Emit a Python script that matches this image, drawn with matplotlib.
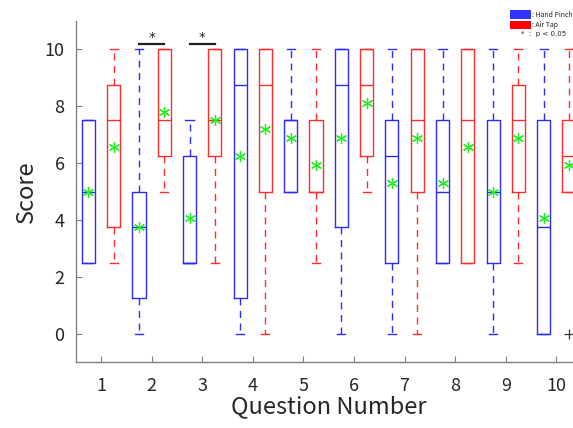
import matplotlib
matplotlib.use('Agg')
import matplotlib.pyplot as plt
from matplotlib.patches import Rectangle

plt.rcParams['font.family'] = ['Noto Sans CJK JP', 'DejaVu Sans']

questions = [1, 2, 3, 4, 5, 6, 7, 8, 9, 10]

# Hand Pinch (blue)
hp_q1 = [2.5, 1.25, 2.5, 1.25, 5.0, 3.75, 2.5, 2.5, 2.5, 0.0]
hp_med = [5.0, 3.75, 2.5, 8.75, 7.5, 8.75, 6.25, 5.0, 5.0, 3.75]
hp_q3 = [7.5, 5.0, 6.25, 10.0, 7.5, 10.0, 7.5, 7.5, 7.5, 7.5]
hp_lo = [2.5, 0.0, 2.5, 0.0, 5.0, 0.0, 0.0, 2.5, 0.0, 0.0]
hp_hi = [7.5, 10.0, 7.5, 10.0, 10.0, 10.0, 10.0, 10.0, 10.0, 10.0]
hp_mean = [5.0, 3.75, 4.06, 6.25, 6.87, 6.87, 5.31, 5.31, 5.0, 4.06]

# Air Tap (red)
at_q1 = [3.75, 6.25, 6.25, 5.0, 5.0, 6.25, 5.0, 2.5, 5.0, 5.0]
at_med = [7.5, 7.5, 7.5, 8.75, 5.0, 8.75, 7.5, 7.5, 7.5, 6.25]
at_q3 = [8.75, 10.0, 10.0, 10.0, 7.5, 10.0, 10.0, 10.0, 8.75, 7.5]
at_lo = [2.5, 5.0, 2.5, 0.0, 2.5, 5.0, 0.0, 2.5, 2.5, 5.0]
at_hi = [10.0, 10.0, 10.0, 10.0, 10.0, 10.0, 10.0, 10.0, 10.0, 10.0]
at_mean = [6.56, 7.81, 7.5, 7.19, 5.94, 8.12, 6.87, 6.56, 6.87, 5.94]
at_fliers = [[], [], [], [], [], [], [], [], [], [0.0]]

# questions with p < 0.05
sig_questions = [2, 3]

blue = '#2b2bff'
red = '#ff2b2b'


def make_stats(q1, med, q3, lo, hi, mean, fliers=None):
    stats = []
    for i in range(len(q1)):
        stats.append(dict(q1=q1[i], med=med[i], q3=q3[i], whislo=lo[i],
                          whishi=hi[i], mean=mean[i],
                          fliers=fliers[i] if fliers else []))
    return stats


fig = plt.figure(figsize=(5.73, 4.28), dpi=100)
ax = fig.add_axes([0.1321, 0.1542, 0.883, 0.7967])

off = 0.25
for stats, color, sign in [(make_stats(hp_q1, hp_med, hp_q3, hp_lo, hp_hi, hp_mean), blue, -1),
                           (make_stats(at_q1, at_med, at_q3, at_lo, at_hi, at_mean, at_fliers), red, 1)]:
    pos = [q + sign * off for q in questions]
    ax.bxp(stats, positions=pos, widths=0.26, showmeans=True, patch_artist=False,
           capwidths=0.16,
           boxprops=dict(color=color, linewidth=1.0),
           medianprops=dict(color=color, linewidth=1.0),
           whiskerprops=dict(color=color, linewidth=1.0, linestyle=(0, (5, 4))),
           capprops=dict(color=color, linewidth=1.0),
           meanprops=dict(marker=(6, 2, 0), markersize=8, markeredgecolor='#22ee22',
                          markerfacecolor='#22ee22', markeredgewidth=0.9),
           flierprops=dict(marker='+', markersize=7, markeredgecolor='#333333',
                           markeredgewidth=0.9))

# significance bars
for q in sig_questions:
    ax.plot([q - off, q + off], [10.19, 10.19], color='#222222', linewidth=1.6)
    ax.text(q, 10.2, '*', ha='center', va='bottom', fontsize=9.5, color='#222222',
            family='DejaVu Sans')

ax.set_xlim(0.5, 10.5)
ax.set_ylim(-1, 11)
ax.set_xticks(questions)
ax.set_xticklabels([str(q) for q in questions])
ax.set_yticks([0, 2, 4, 6, 8, 10])
ax.tick_params(direction='in', length=4, width=0.8, color='#808080',
               labelsize=13, labelcolor='#262626')
ax.tick_params(axis='x', pad=11)
ax.tick_params(axis='y', pad=8)
for s in ['top', 'right']:
    ax.spines[s].set_visible(False)
for s in ['left', 'bottom']:
    ax.spines[s].set_color('#808080')
    ax.spines[s].set_linewidth(1.0)

ax.set_xlabel('Question Number', fontsize=17, color='#262626', labelpad=0)
ax.set_ylabel('Score', fontsize=17, color='#262626', labelpad=5)

# legend
fig.patches.append(Rectangle((510 / 573, 1 - 19.3 / 428), 20.5 / 573, 9 / 428,
                             transform=fig.transFigure, facecolor='#3333ff', edgecolor='none'))
fig.patches.append(Rectangle((510 / 573, 1 - 29.3 / 428), 20.5 / 573, 8.3 / 428,
                             transform=fig.transFigure, facecolor='#ff0000', edgecolor='none'))
fig.text(532 / 573, 1 - 15 / 428, ': Hand Pinch', fontsize=5.0, va='center', ha='left', color='#222222')
fig.text(532 / 573, 1 - 25 / 428, ': Air Tap', fontsize=5.0, va='center', ha='left', color='#222222')
fig.text(521 / 573, 1 - 34 / 428, '*  :  p < 0.05', fontsize=5.0, va='center', ha='left', color='#222222',
         family=['DejaVu Sans'])

fig.savefig('out.png', dpi=100)
